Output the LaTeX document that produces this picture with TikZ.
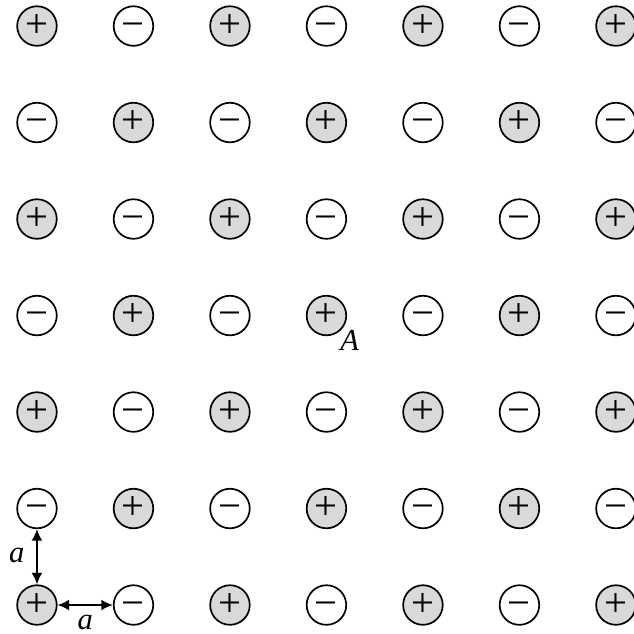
\documentclass[tikz,border=0pt]{standalone}
\usepackage{fontspec}
\setmainfont{Liberation Serif}
\usetikzlibrary{arrows.meta}
\begin{document}
\begin{tikzpicture}[
    ion/.style={draw, circle, line width=0.5pt, minimum size=0.41cm, inner sep=0pt,
        text height=6.5pt, text depth=0pt, font=\fontsize{12}{14}\selectfont},
    cation/.style={ion, fill=black!15},
    anion/.style={ion, fill=white},
    dist/.style={{Latex[length=3.4pt,width=3.2pt]}-{Latex[length=3.4pt,width=3.2pt]}, line width=0.5pt},
    lbl/.style={inner sep=0pt, font=\fontsize{9}{11}\selectfont\itshape}
]
    \useasboundingbox (-0.383,-0.29) rectangle (6.187,6.27);
    \foreach \i in {0,...,6} {
        \foreach \j in {0,...,6} {
            \pgfmathtruncatemacro{\s}{mod(\i+\j,2)}
            \ifnum\s=0
                \node[cation] (c-\i-\j) at (\i,\j) {+};
            \else
                \node[anion] (c-\i-\j) at (\i,\j) {−};
            \fi
        }
    }
    \draw[dist] (c-0-0) -- (c-0-1);
    \draw[dist] (c-0-0) -- (c-1-0);
    \node[lbl] (lblav) at (-0.21,0.51) {a};
    \node[lbl] (lblah) at (0.5,-0.185) {a};
    \node[lbl] (lblA) at (3.24,2.74) {A};
\end{tikzpicture}
\end{document}
